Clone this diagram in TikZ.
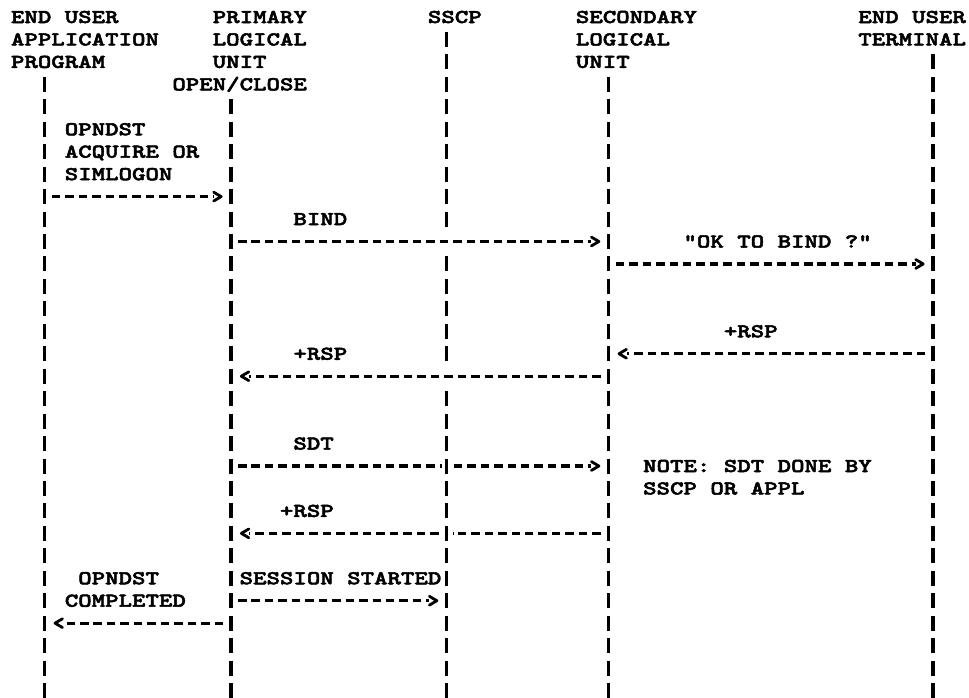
\documentclass[tikz,border=0pt]{standalone}
\usetikzlibrary{arrows.meta}
\suppressfontnotfounderror=1
\font\ttB="[lmmonolt10-bold]:extend=1.307;embolden=2.6" at 19.6pt
\ifx\ttB\nullfont
  \font\ttB="[lmmono10-regular]:extend=1.307;embolden=4" at 19.6pt
\fi
\suppressfontnotfounderror=0
\pgfdeclarearrow{
  name = Chev,
  setup code = {
    \pgfarrowssettipend{1.3pt}
    \pgfarrowssetlineend{-7.5pt}
    \pgfarrowssetvisualbackend{-8.5pt}
    \pgfarrowssetbackend{-8.5pt}
  },
  drawing code = {
    \pgfsetdash{}{0pt}
    \pgfsetlinewidth{2.8pt}
    \pgfsetroundcap
    \pgfsetroundjoin
    \pgfpathmoveto{\pgfqpoint{-7.5pt}{4.4pt}}
    \pgfpathlineto{\pgfqpoint{0pt}{0pt}}
    \pgfpathlineto{\pgfqpoint{-7.5pt}{-4.4pt}}
    \pgfusepathqstroke
  }
}
\newcommand\rowy[1]{17+22.45*(#1)}
\newcommand\basey[1]{23+22.45*(#1)}
\newcommand\colx[1]{11+13.45*(#1)}
\tikzset{
  txt/.style={anchor=base west, inner sep=0pt, outer sep=0pt, font=\ttB, text=black},
  life/.style={draw=black, line width=3.2pt, line cap=butt, dash pattern=on 15pt off 7.45pt},
  msg/.style={draw=black, line width=3.2pt, line cap=butt, dash pattern=on 8.5pt off 4.95pt},
  msgR/.style={msg, shorten <=7pt, shorten >=8.5pt, -{Chev[]}},
  msgL/.style={msg, shorten <=8pt, shorten >=9pt, -{Chev[]}},
  segR/.style={msg, shorten <=7pt, shorten >=5pt},
  segL/.style={msg, shorten <=8pt, shorten >=6pt}
}
\begin{document}
\begin{tikzpicture}[x=1pt, y=-1pt]
\useasboundingbox[fill=white] (0,0) rectangle (969,697);

% ---- headers ----
\node[txt] (h1a) at ({\colx{0}},{\basey{0}}) {END USER};
\node[txt] (h1b) at ({\colx{0}},{\basey{1}}) {APPLICATION};
\node[txt] (h1c) at ({\colx{0}},{\basey{2}}) {PROGRAM};
\node[txt] (h2a) at ({\colx{15}},{\basey{0}}) {PRIMARY};
\node[txt] (h2b) at ({\colx{15}},{\basey{1}}) {LOGICAL};
\node[txt] (h2c) at ({\colx{15}},{\basey{2}}) {UNIT};
\node[txt] (h2d) at ({\colx{12}},{\basey{3}}) {OPEN/CLOSE};
\node[txt] (h3a) at ({\colx{31}},{\basey{0}}) {SSCP};
\node[txt] (h4a) at ({\colx{42}},{\basey{0}}) {SECONDARY};
\node[txt] (h4b) at ({\colx{42}},{\basey{1}}) {LOGICAL};
\node[txt] (h4c) at ({\colx{42}},{\basey{2}}) {UNIT};
\node[txt] (h5a) at ({\colx{63}},{\basey{0}}) {END USER};
\node[txt] (h5b) at ({\colx{63}},{\basey{1}}) {TERMINAL};

% ---- lifelines ----
\coordinate (L1t) at (44.7,{\rowy{3}-7.5});
\coordinate (L1b) at (44.7,{\rowy{30}+7.5});
\coordinate (L2t) at (231,{\rowy{4}-7.5});
\coordinate (L2b) at (231,{\rowy{30}+7.5});
\coordinate (L3t) at (446.7,{\rowy{1}-7.5});
\coordinate (L3a) at (446.7,{\rowy{9}+7.5});
\coordinate (L3c) at (446.7,{\rowy{11}-7.5});
\coordinate (L3d) at (446.7,{\rowy{15}+7.5});
\coordinate (L3e) at (446.7,{\rowy{17}-7.5});
\coordinate (L3b) at (446.7,{\rowy{30}+7.5});
\coordinate (L4t) at (608.7,{\rowy{3}-7.5});
\coordinate (L4b) at (608.7,{\rowy{30}+7.5});
\coordinate (L5t) at (933,{\rowy{2}-7.5});
\coordinate (L5b) at (933,{\rowy{30}+7.5});

\draw[life] (L1t) -- (L1b);
\draw[life] (L2t) -- (L2b);
\draw[life] (L3t) -- (L3a);
\draw[life] (L3c) -- (L3d);
\draw[life] (L3e) -- (L3b);
\draw[life] (L4t) -- (L4b);
\draw[life] (L5t) -- (L5b);

% ---- message rows ----
\foreach \r in {8,10,11,15,16,20,23,26,27}{
  \coordinate (r\r) at (0,{\rowy{\r}});
}

% OPNDST
\node[txt] (m1a) at ({\colx{4}},{\basey{5}}) {OPNDST};
\node[txt] (m1b) at ({\colx{4}},{\basey{6}}) {ACQUIRE OR};
\node[txt] (m1c) at ({\colx{4}},{\basey{7}}) {SIMLOGON};
\draw[msgR] (L1t |- r8) -- (L2t |- r8);

% BIND
\node[txt] (m2) at ({\colx{21}},{\basey{9}}) {BIND};
\draw[msgR] (L2t |- r10) -- (L4t |- r10);

% OK TO BIND ?
\node[txt] (m3) at ({\colx{50}},{\basey{10}}) {"OK TO BIND ?"};
\draw[msgR] (L4t |- r11) -- (L5t |- r11);

% +RSP from terminal
\node[txt] (m4) at ({\colx{53}},{\basey{14}}) {+RSP};
\draw[msgL] (L5t |- r15) -- (L4t |- r15);

% +RSP to PLU
\node[txt] (m5) at ({\colx{21}},{\basey{15}}) {+RSP};
\draw[msgL] (L4t |- r16) -- (L2t |- r16);

% SDT
\node[txt] (m6) at ({\colx{21}},{\basey{19}}) {SDT};
\draw[segR] (L2t |- r20) -- (L3t |- r20);
\draw[msgR] (L3t |- r20) -- (L4t |- r20);
\node[txt] (n1) at ({\colx{47}},{\basey{20}}) {NOTE: SDT DONE BY};
\node[txt] (n2) at ({\colx{47}},{\basey{21}}) {SSCP OR APPL};

% +RSP for SDT
\node[txt] (m7) at ({\colx{20}},{\basey{22}}) {+RSP};
\draw[segL] (L4t |- r23) -- (L3t |- r23);
\draw[msgL] (L3t |- r23) -- (L2t |- r23);

% SESSION STARTED
\node[txt] (m8) at ({\colx{17}},{\basey{25}}) {SESSION STARTED};
\draw[msgR] (L2t |- r26) -- (L3t |- r26);

% OPNDST COMPLETED
\node[txt] (m9a) at ({\colx{5}},{\basey{25}}) {OPNDST};
\node[txt] (m9b) at ({\colx{4}},{\basey{26}}) {COMPLETED};
\draw[msgL] (L2t |- r27) -- (L1t |- r27);
\end{tikzpicture}
\end{document}
